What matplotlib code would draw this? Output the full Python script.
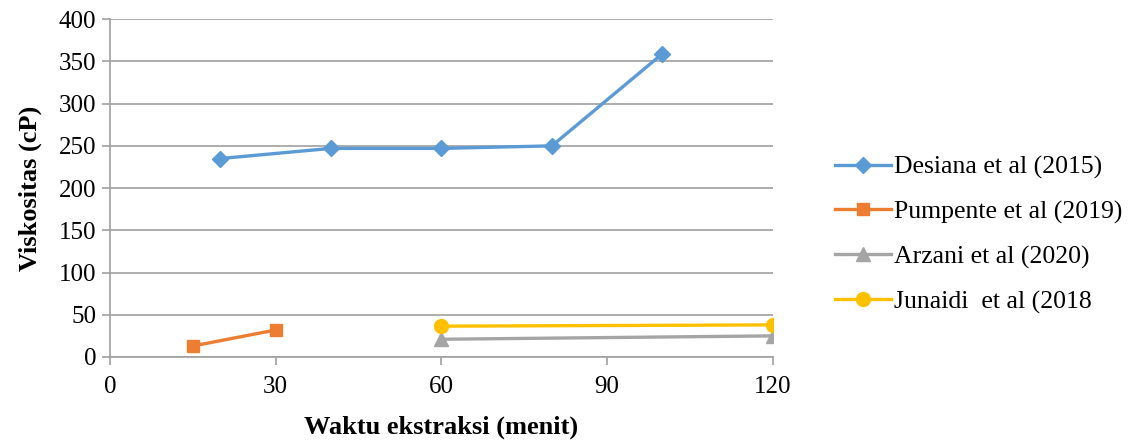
import matplotlib
matplotlib.use("Agg")
import matplotlib.pyplot as plt

plt.rcParams['font.family'] = ['Liberation Serif', 'DejaVu Serif']

desiana_x = [20, 40, 60, 80, 100]
desiana_y = [235, 247, 247, 250, 359]
pumpente_x = [15, 30]
pumpente_y = [13, 32]
arzani_x = [60, 120]
arzani_y = [21, 25]
junaidi_x = [60, 120]
junaidi_y = [36.5, 38]

labels = ["Desiana et al (2015)", "Pumpente et al (2019)", "Arzani et al (2020)", "Junaidi  et al (2018"]
colors = ["#5B9BD5", "#ED7D31", "#A5A5A5", "#FFC000"]

fig = plt.figure(figsize=(11.35, 4.41), dpi=100)
ax = fig.add_axes([0.0969, 0.1905, 0.584, 0.766])

ax.plot(desiana_x, desiana_y, color=colors[0], marker='D', markersize=8.5, lw=2.4, label=labels[0])
ax.plot(pumpente_x, pumpente_y, color=colors[1], marker='s', markersize=8.5, lw=2.4, label=labels[1])
ax.plot(arzani_x, arzani_y, color=colors[2], marker='^', markersize=10, lw=2.4, label=labels[2])
ax.plot(junaidi_x, junaidi_y, color=colors[3], marker='o', markersize=10, lw=2.4, label=labels[3])

ax.set_xlim(0, 120)
ax.set_ylim(0, 400)
ax.set_xticks([0, 30, 60, 90, 120])
ax.set_yticks(range(0, 401, 50))
ax.yaxis.grid(True, color='#A0A0A0', lw=1.2)
ax.set_axisbelow(True)
for s in ['top', 'right']:
    ax.spines[s].set_visible(False)
for s in ['left', 'bottom']:
    ax.spines[s].set_color('#A0A0A0')
    ax.spines[s].set_linewidth(1.2)
ax.tick_params(axis='both', colors='#A0A0A0', labelcolor='black', labelsize=18, length=6, width=1.2)
ax.tick_params(axis='x', pad=8)
ax.tick_params(axis='y', pad=4)

ax.set_xlabel("Waktu ekstraksi (menit)", fontsize=19, fontweight='bold', labelpad=12)
ax.set_ylabel("Viskositas (cP)", fontsize=19, fontweight='bold', labelpad=12)

leg = ax.legend(loc='center left', bbox_to_anchor=(1.078, 0.362), frameon=False, fontsize=18.5,
                handlelength=2.2, labelspacing=0.84, handletextpad=0.1, borderaxespad=0)

fig.savefig("out.png", dpi=100)
